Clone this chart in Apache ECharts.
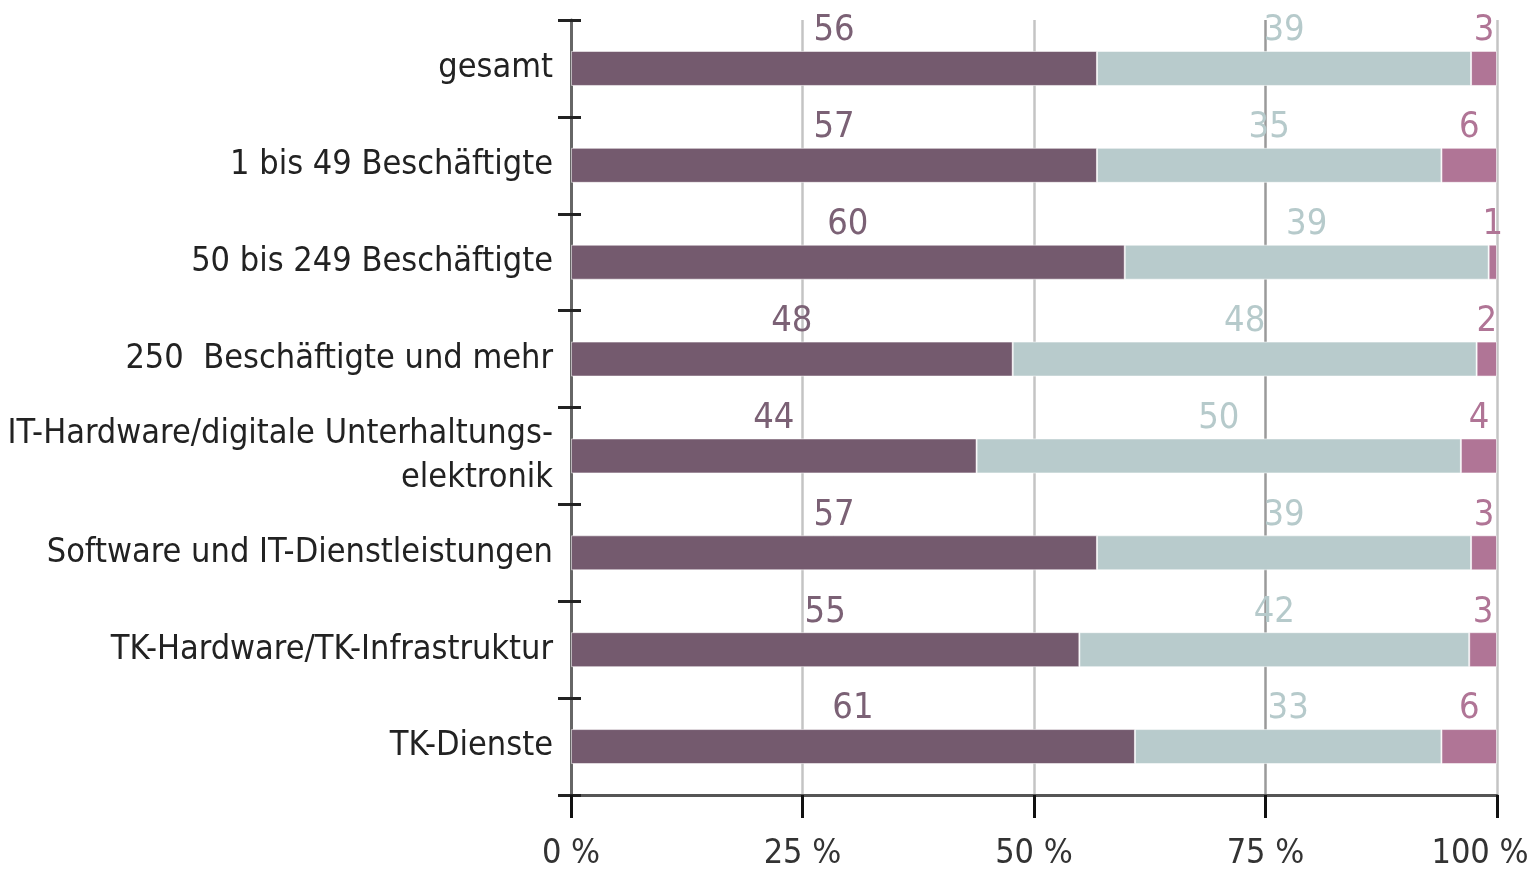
<!DOCTYPE html>
<html>
<head>
<meta charset="utf-8">
<script src="https://cdn.jsdelivr.net/npm/echarts@6/dist/echarts.min.js"></script>
<style>
html,body{margin:0;padding:0;background:#fff;}
#chart{width:1528px;height:874px;}
</style>
</head>
<body>
<div id="chart"></div>
<script>
// Kategorien (von oben nach unten)
var categories = [
	'gesamt',
	'1 bis 49 Beschäftigte',
	'50 bis 249 Beschäftigte',
	'250  Beschäftigte und mehr',
	'IT-Hardware/digitale Unterhaltungs-\nelektronik',
	'Software und IT-Dienstleistungen',
	'TK-Hardware/TK-Infrastruktur',
	'TK-Dienste'
];
// Balkenlängen (in %)
var barDark = [56.8, 56.8, 59.8, 47.7, 43.8, 56.8, 54.9, 60.9];
var barLight = [40.4, 37.2, 39.3, 50.1, 52.3, 40.4, 42.1, 33.1];
var barPink = [2.8, 6.0, 0.9, 2.2, 3.9, 2.8, 3.0, 6.0];
// gedruckte Werte über den Balken
var labelDark = [56, 57, 60, 48, 44, 57, 55, 61];
var labelLight = [39, 35, 39, 48, 50, 39, 42, 33];
var labelPink = [3, 6, 1, 2, 4, 3, 3, 6];
// Achse
var xTicks = [0, 25, 50, 75, 100];

var FONT = '"Liberation Sans Narrow", "DejaVu Sans Condensed", "Noto Sans", sans-serif';
var PLOT_W = 1528 - 571 - 31;

var chart = echarts.init(document.getElementById('chart'));

function makeSeries(name, data, labels, color, labelColor) {
	return {
		name: name,
		type: 'bar',
		stack: 'all',
		barWidth: 35,
		data: data,
		itemStyle: { color: color, borderColor: 'rgba(255,255,255,0.55)', borderWidth: 1 },
		label: {
			show: true,
			position: 'top',
			distance: 2,
			color: labelColor,
			fontFamily: FONT,
			fontSize: 36,
			formatter: function (p) { return labels[p.dataIndex]; }
		},
		emphasis: { disabled: true }
	};
}

chart.setOption({
	animation: false,
	backgroundColor: '#fff',
	grid: { left: 571, right: 31, top: 20, bottom: 79, containLabel: false, outerBoundsMode: 'none' },
	xAxis: {
		type: 'value',
		min: 0,
		max: 100,
		interval: 25,
		axisLine: { show: true, lineStyle: { color: '#555', width: 3 } },
		axisTick: { show: true, length: 23, lineStyle: { color: '#111', width: 3 } },
		axisLabel: {
			color: '#333',
			fontFamily: FONT,
			fontSize: 34,
			margin: 42,
			formatter: function (v) {
				if (xTicks.indexOf(v) < 0) return '';
				// letzte Beschriftung etwas nach links rücken
				return v === 100 ? '{m|' + v + ' %}' : v + ' %';
			},
			rich: { m: { fontFamily: FONT, fontSize: 34, color: '#333', padding: [0, 34, 0, 0] } }
		},
		splitLine: {
			show: true,
			lineStyle: { color: ['#ffffff', '#c4c4c4', '#c4c4c4', '#9a9a9a', '#c4c4c4'], width: 2.5 }
		}
	},
	yAxis: [{
		type: 'category',
		inverse: true,
		data: categories,
		axisLine: { show: true, lineStyle: { color: '#666', width: 3 } },
		axisTick: { show: true, length: 13, lineStyle: { color: '#222', width: 3 } },
		axisLabel: {
			color: '#222',
			fontFamily: FONT,
			fontSize: 34,
			lineHeight: 44,
			align: 'right',
			margin: 18
		},
		splitLine: { show: false }
	}, {
		// zweite Achse nur für die nach rechts zeigenden Tickstriche
		type: 'category',
		inverse: true,
		position: 'right',
		offset: -PLOT_W,
		data: categories,
		axisLine: { show: false },
		axisTick: { show: true, length: 10, lineStyle: { color: '#222', width: 3 } },
		axisLabel: { show: false },
		splitLine: { show: false }
	}],
	series: [
		makeSeries('ja', barDark, labelDark, '#745a6e', '#7b6175'),
		makeSeries('nein', barLight, labelLight, '#b8cbcc', '#b6cacb'),
		makeSeries('weiß nicht', barPink, labelPink, '#b07596', '#b07596')
	]
});
</script>
</body>
</html>
